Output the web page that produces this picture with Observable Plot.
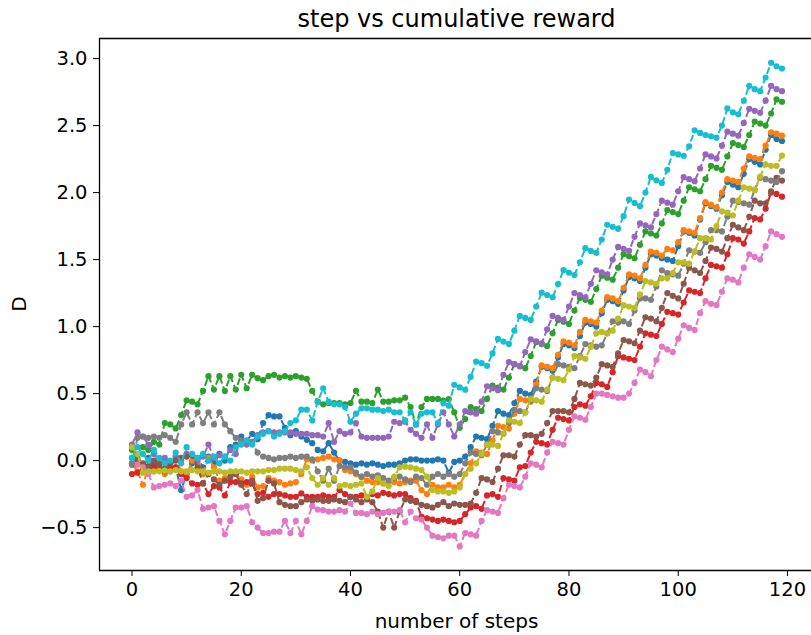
<!DOCTYPE html>
<html>
<head>
<meta charset="utf-8">
<script src="https://cdn.jsdelivr.net/npm/d3@7"></script>
<script src="https://cdn.jsdelivr.net/npm/@observablehq/plot@0.6"></script>
<style>
  html, body { margin: 0; padding: 0; background: #fff; overflow: hidden; }
  #chart svg { display: block; }
</style>
</head>
<body>
<div id="chart"></div>
<script>
// Cumulative reward per step for ten runs (index = step number).
const blue = [
  0.02, 0.00, -0.03, 0.02, -0.02, -0.05, 0.00, -0.08, -0.05, -0.22,
  -0.10, -0.02, 0.02, -0.05, 0.03, -0.02, 0.05, 0.00, 0.10, 0.12,
  0.18, 0.15, 0.20, 0.16, 0.28, 0.34, 0.33, 0.33, 0.245, 0.19,
  0.22, 0.18, 0.155, 0.13, 0.08, 0.07, 0.13, 0.06, 0.00, -0.01,
  -0.02, -0.03, -0.02, -0.03, -0.02, -0.03, -0.04, -0.03, -0.03, -0.02,
  0.00, 0.01, 0.01, 0.00, 0.00, 0.00, 0.01, 0.00, -0.09, -0.01,
  0.00, 0.03, 0.10, 0.18, 0.17, 0.16, 0.26, 0.37, 0.35, 0.34,
  0.43, 0.52, 0.50, 0.49, 0.59, 0.70, 0.69, 0.67, 0.77, 0.87,
  0.86, 0.84, 0.93, 1.03, 1.02, 1.00, 1.10, 1.20, 1.19, 1.17,
  1.27, 1.37, 1.36, 1.34, 1.44, 1.54, 1.53, 1.51, 1.50, 1.49,
  1.60, 1.71, 1.70, 1.68, 1.80, 1.92, 1.90, 1.88, 1.98, 2.08,
  2.06, 2.04, 2.14, 2.25, 2.23, 2.21, 2.32, 2.43, 2.40, 2.385
];
const orange = [
  -0.02, -0.08, -0.18, -0.05, -0.08, -0.06, -0.10, -0.05, 0.02, -0.08,
  -0.12, 0.00, -0.02, -0.10, 0.02, -0.05, -0.15, -0.13, -0.15, -0.10,
  -0.14, -0.18, -0.12, -0.20, -0.19, -0.13, -0.15, -0.16, -0.18, -0.17,
  -0.16, -0.10, 0.01, 0.00, 0.01, 0.02, 0.03, 0.01, 0.00, -0.07,
  -0.08, -0.10, -0.12, -0.15, -0.16, -0.16, -0.17, -0.16, -0.16, -0.17,
  -0.16, -0.15, -0.15, -0.22, -0.25, -0.18, -0.20, -0.20, -0.18, -0.20,
  -0.18, -0.10, -0.02, 0.07, 0.06, 0.05, 0.15, 0.26, 0.25, 0.24,
  0.35, 0.46, 0.45, 0.44, 0.57, 0.71, 0.70, 0.69, 0.79, 0.89,
  0.88, 0.86, 0.96, 1.05, 1.04, 1.03, 1.12, 1.22, 1.21, 1.19,
  1.29, 1.39, 1.38, 1.36, 1.46, 1.56, 1.55, 1.53, 1.58, 1.57,
  1.63, 1.72, 1.71, 1.70, 1.81, 1.93, 1.91, 1.89, 2.00, 2.10,
  2.09, 2.08, 2.18, 2.27, 2.26, 2.25, 2.35, 2.45, 2.44, 2.425
];
const green = [
  0.08, 0.02, 0.10, 0.08, 0.14, 0.12, 0.28, 0.27, 0.24, 0.34,
  0.45, 0.44, 0.42, 0.52, 0.63, 0.53, 0.63, 0.52, 0.63, 0.53,
  0.64, 0.54, 0.64, 0.615, 0.60, 0.63, 0.64, 0.62, 0.63, 0.62,
  0.63, 0.62, 0.61, 0.52, 0.44, 0.42, 0.43, 0.43, 0.43, 0.42,
  0.43, 0.52, 0.44, 0.44, 0.43, 0.53, 0.44, 0.44, 0.45, 0.45,
  0.47, 0.40, 0.27, 0.40, 0.46, 0.46, 0.46, 0.447, 0.459, 0.36,
  0.245, 0.31, 0.40, 0.385, 0.37, 0.46, 0.56, 0.545, 0.53, 0.62,
  0.72, 0.705, 0.69, 0.78, 0.885, 0.87, 0.855, 0.95, 1.05, 1.037,
  1.02, 1.12, 1.215, 1.20, 1.185, 1.28, 1.38, 1.365, 1.35, 1.44,
  1.54, 1.525, 1.51, 1.61, 1.71, 1.695, 1.68, 1.77, 1.87, 1.855,
  1.84, 1.94, 2.04, 2.025, 2.01, 2.10, 2.20, 2.185, 2.17, 2.27,
  2.37, 2.355, 2.34, 2.43, 2.53, 2.515, 2.50, 2.59, 2.695, 2.678
];
const red = [
  -0.10, -0.09, -0.06, -0.04, -0.05, -0.03, -0.08, -0.06, -0.05, -0.10,
  -0.13, -0.17, -0.18, -0.17, -0.25, -0.19, -0.20, -0.26, -0.16, -0.16,
  -0.17, -0.16, -0.17, -0.25, -0.24, -0.27, -0.25, -0.25, -0.26, -0.27,
  -0.27, -0.245, -0.27, -0.27, -0.27, -0.26, -0.27, -0.27, -0.22, -0.25,
  -0.27, -0.27, -0.26, -0.27, -0.25, -0.26, -0.24, -0.25, -0.26, -0.25,
  -0.25, -0.28, -0.30, -0.42, -0.43, -0.44, -0.45, -0.44, -0.45, -0.46,
  -0.45, -0.40, -0.35, -0.34, -0.36, -0.26, -0.25, -0.27, -0.13, -0.14,
  -0.15, -0.05, -0.04, 0.06, 0.14, 0.13, 0.12, 0.23, 0.32, 0.31,
  0.30, 0.40, 0.42, 0.41, 0.48, 0.58, 0.57, 0.55, 0.66, 0.78,
  0.77, 0.76, 0.75, 0.85, 0.95, 0.94, 0.93, 1.02, 1.11, 1.10,
  1.09, 1.18, 1.27, 1.26, 1.25, 1.36, 1.46, 1.45, 1.44, 1.54,
  1.66, 1.65, 1.62, 1.71, 1.81, 1.80, 1.88, 2.00, 1.99, 1.97
];
const purple = [
  0.12, 0.21, 0.18, 0.12, 0.05, 0.00, 0.02, -0.02, 0.03, 0.00,
  0.05, 0.04, 0.00, 0.03, 0.12, 0.02, 0.04, 0.03, 0.08, 0.05,
  0.15, 0.12, 0.14, 0.19, 0.21, 0.22, 0.21, 0.21, 0.21, 0.21,
  0.20, 0.20, 0.20, 0.19, 0.19, 0.18, 0.28, 0.14, 0.22, 0.20,
  0.21, 0.28, 0.18, 0.17, 0.17, 0.17, 0.17, 0.18, 0.29, 0.28,
  0.29, 0.23, 0.20, 0.17, 0.27, 0.17, 0.27, 0.36, 0.27, 0.18,
  0.27, 0.37, 0.36, 0.35, 0.44, 0.555, 0.54, 0.525, 0.64, 0.735,
  0.72, 0.705, 0.81, 0.905, 0.89, 0.875, 0.98, 1.08, 1.065, 1.05,
  1.15, 1.25, 1.236, 1.219, 1.32, 1.42, 1.405, 1.39, 1.50, 1.595,
  1.58, 1.565, 1.67, 1.77, 1.755, 1.74, 1.84, 1.94, 1.925, 1.91,
  2.01, 2.115, 2.10, 2.085, 2.18, 2.285, 2.27, 2.255, 2.35, 2.455,
  2.44, 2.425, 2.52, 2.625, 2.61, 2.595, 2.686, 2.797, 2.772, 2.757
];
const brown = [
  -0.03, 0.00, -0.02, -0.05, 0.00, -0.03, -0.06, -0.02, 0.00, 0.02,
  0.03, 0.04, -0.05, -0.17, -0.10, -0.14, -0.18, -0.15, -0.12, -0.10,
  -0.18, -0.25, -0.15, -0.30, -0.28, -0.15, -0.17, -0.31, -0.33, -0.34,
  -0.34, -0.31, -0.29, -0.30, -0.29, -0.30, -0.30, -0.29, -0.30, -0.31,
  -0.27, -0.29, -0.31, -0.29, -0.31, -0.38, -0.50, -0.38, -0.50, -0.38,
  -0.29, -0.30, -0.31, -0.33, -0.34, -0.35, -0.33, -0.31, -0.34, -0.32,
  -0.33, -0.33, -0.32, -0.24, -0.13, -0.14, -0.16, -0.06, 0.04, 0.04,
  0.03, 0.12, 0.19, 0.19, 0.18, 0.20, 0.28, 0.37, 0.37, 0.37,
  0.36, 0.46, 0.58, 0.57, 0.56, 0.62, 0.72, 0.71, 0.70, 0.80,
  0.90, 0.89, 0.876, 0.97, 1.07, 1.06, 1.04, 1.14, 1.25, 1.23,
  1.21, 1.32, 1.44, 1.42, 1.40, 1.49, 1.59, 1.58, 1.56, 1.66,
  1.76, 1.74, 1.72, 1.82, 1.94, 1.92, 1.92, 2.01, 2.11, 2.09
];
const pink = [
  -0.02, -0.03, -0.05, -0.10, -0.20, -0.19, -0.18, -0.17, -0.19, -0.15,
  -0.27, -0.26, -0.22, -0.36, -0.35, -0.34, -0.45, -0.55, -0.45, -0.35,
  -0.35, -0.34, -0.46, -0.50, -0.54, -0.54, -0.53, -0.53, -0.45, -0.54,
  -0.45, -0.55, -0.45, -0.34, -0.365, -0.37, -0.38, -0.38, -0.37, -0.38,
  -0.32, -0.39, -0.39, -0.40, -0.38, -0.40, -0.39, -0.38, -0.38, -0.37,
  -0.46, -0.38, -0.43, -0.44, -0.50, -0.56, -0.57, -0.58, -0.56, -0.56,
  -0.64, -0.54, -0.55, -0.56, -0.45, -0.37, -0.38, -0.39, -0.28, -0.18,
  -0.19, -0.20, -0.12, -0.02, -0.03, -0.05, 0.06, 0.14, 0.13, 0.12,
  0.23, 0.33, 0.32, 0.305, 0.40, 0.50, 0.50, 0.49, 0.48, 0.47,
  0.47, 0.50, 0.58, 0.68, 0.66, 0.63, 0.75, 0.85, 0.83, 0.81,
  0.91, 1.01, 0.99, 0.975, 1.10, 1.19, 1.17, 1.16, 1.26, 1.36,
  1.35, 1.33, 1.44, 1.54, 1.52, 1.50, 1.60, 1.71, 1.69, 1.67
];
const gray = [
  -0.02, 0.17, 0.18, 0.17, 0.18, 0.17, 0.19, 0.17, 0.14, 0.27,
  0.36, 0.27, 0.36, 0.28, 0.36, 0.27, 0.36, 0.27, 0.22, 0.17,
  0.15, 0.14, 0.13, 0.06, 0.03, 0.02, 0.01, 0.02, 0.02, 0.03,
  0.02, 0.03, 0.03, 0.01, -0.08, -0.15, -0.06, -0.15, -0.04, -0.05,
  -0.05, -0.09, -0.12, -0.10, -0.12, -0.11, -0.13, -0.15, -0.13, -0.12,
  -0.14, -0.16, -0.12, -0.13, -0.18, -0.12, -0.10, -0.12, -0.10, -0.12,
  -0.10, -0.02, 0.06, 0.05, 0.04, 0.12, 0.22, 0.21, 0.20, 0.28,
  0.38, 0.37, 0.36, 0.45, 0.54, 0.53, 0.52, 0.62, 0.72, 0.71,
  0.70, 0.69, 0.78, 0.87, 0.86, 0.85, 0.86, 0.95, 1.04, 1.03,
  1.04, 1.02, 1.12, 1.21, 1.21, 1.20, 1.30, 1.42, 1.40, 1.39,
  1.38, 1.47, 1.57, 1.56, 1.55, 1.63, 1.72, 1.72, 1.71, 1.82,
  1.94, 1.93, 1.92, 1.91, 2.02, 2.11, 2.10, 2.09, 2.08, 2.16
];
const olive = [
  0.10, 0.05, -0.09, -0.08, -0.08, -0.08, -0.075, -0.08, -0.07, -0.08,
  -0.08, -0.07, -0.08, -0.08, -0.09, -0.08, -0.08, -0.09, -0.08, -0.08,
  -0.08, -0.09, -0.08, -0.08, -0.08, -0.07, -0.07, -0.06, -0.06, -0.06,
  -0.07, -0.08, -0.05, -0.13, -0.18, -0.13, -0.18, -0.13, -0.19, -0.18,
  -0.19, -0.18, -0.17, -0.27, -0.23, -0.13, -0.17, -0.19, -0.12, -0.05,
  -0.045, -0.05, -0.06, -0.07, -0.12, -0.22, -0.23, -0.23, -0.24, -0.23,
  -0.20, -0.10, -0.06, -0.02, 0.05, 0.12, 0.12, 0.11, 0.20, 0.30,
  0.29, 0.28, 0.36, 0.46, 0.45, 0.44, 0.53, 0.62, 0.61, 0.60,
  0.68, 0.78, 0.77, 0.76, 0.85, 0.95, 0.96, 0.95, 0.97, 1.06,
  1.16, 1.15, 1.14, 1.24, 1.34, 1.33, 1.32, 1.36, 1.36, 1.40,
  1.48, 1.48, 1.47, 1.56, 1.66, 1.66, 1.65, 1.75, 1.86, 1.85,
  1.83, 1.94, 2.04, 2.03, 2.02, 2.12, 2.21, 2.20, 2.20, 2.276
];
const cyan = [
  0.02, 0.10, 0.05, 0.00, 0.08, 0.02, -0.02, 0.00, 0.06, -0.02,
  0.10, 0.05, 0.02, 0.05, 0.00, 0.03, -0.02, 0.03, 0.00, 0.10,
  0.12, 0.15, 0.12, 0.18, 0.20, 0.22, 0.18, 0.20, 0.22, 0.28,
  0.30, 0.38, 0.38, 0.30, 0.44, 0.54, 0.44, 0.42, 0.42, 0.40,
  0.29, 0.35, 0.39, 0.39, 0.38, 0.38, 0.37, 0.38, 0.36, 0.36,
  0.30, 0.36, 0.27, 0.35, 0.36, 0.36, 0.28, 0.43, 0.41, 0.566,
  0.546, 0.529, 0.625, 0.739, 0.727, 0.707, 0.80, 0.908, 0.888, 0.871,
  0.97, 1.08, 1.065, 1.05, 1.15, 1.253, 1.236, 1.219, 1.318, 1.422,
  1.402, 1.385, 1.48, 1.585, 1.565, 1.55, 1.65, 1.76, 1.745, 1.73,
  1.824, 1.948, 1.923, 1.899, 2.0, 2.117, 2.092, 2.072, 2.17, 2.295,
  2.285, 2.275, 2.345, 2.465, 2.445, 2.43, 2.42, 2.41, 2.50, 2.628,
  2.599, 2.584, 2.686, 2.797, 2.772, 2.757, 2.859, 2.969, 2.943, 2.926
];

// Drawing order and colours of the runs
const runs = [blue, orange, green, red, purple, brown, pink, gray, olive, cyan];
const colors = ["#1f77b4", "#ff7f0e", "#2ca02c", "#d62728", "#9467bd",
                "#8c564b", "#e377c2", "#7f7f7f", "#bcbd22", "#17becf"];

const xTicks = [0, 20, 40, 60, 80, 100, 120];
const yTicks = [-0.5, 0.0, 0.5, 1.0, 1.5, 2.0, 2.5, 3.0];

const xDomain = [-5.95, 124.4];
const yDomain = [-0.82, 3.15];

const marks = [];
runs.forEach((values, k) => {
  const rows = values.map((v, i) => ({step: i, value: v}));
  marks.push(Plot.line(rows, {
    x: "step", y: "value", stroke: colors[k], strokeWidth: 2,
    strokeDasharray: "7,3", strokeLinecap: "butt", strokeLinejoin: "round"
  }));
  marks.push(Plot.dot(rows, {
    x: "step", y: "value", fill: colors[k], stroke: "none", r: 3.1
  }));
});

// axes box: left, top and bottom spines
marks.push(Plot.ruleX([xDomain[0]], {stroke: "black", strokeWidth: 1.3}));
marks.push(Plot.ruleY([yDomain[0], yDomain[1]], {stroke: "black", strokeWidth: 1.3}));

const chart = Plot.plot({
  width: 811,
  height: 635,
  marginLeft: 99,
  marginRight: 0,
  marginTop: 38,
  marginBottom: 65,
  style: {fontFamily: "'DejaVu Sans', sans-serif", fontSize: "19.5px", color: "black", background: "white"},
  x: {domain: xDomain, ticks: xTicks, tickSize: 6, tickPadding: 6, label: null, tickFormat: d3.format("d")},
  y: {domain: yDomain, ticks: yTicks, tickSize: 6, tickPadding: 6, label: null, tickFormat: d3.format(".1f")},
  marks
});

const svg = d3.select(chart);
svg.append("text")
  .attr("x", 456.5).attr("y", 27)
  .attr("text-anchor", "middle")
  .attr("font-family", "'DejaVu Sans', sans-serif")
  .attr("font-size", 24)
  .attr("fill", "black")
  .text("step vs cumulative reward");
svg.append("text")
  .attr("x", 456.5).attr("y", 628)
  .attr("text-anchor", "middle")
  .attr("font-family", "'DejaVu Sans', sans-serif")
  .attr("font-size", 20)
  .attr("fill", "black")
  .text("number of steps");
svg.append("text")
  .attr("transform", "translate(26,304) rotate(-90)")
  .attr("text-anchor", "middle")
  .attr("font-family", "'DejaVu Sans', sans-serif")
  .attr("font-size", 20)
  .attr("fill", "black")
  .text("D");

document.getElementById("chart").appendChild(chart);
</script>
</body>
</html>
